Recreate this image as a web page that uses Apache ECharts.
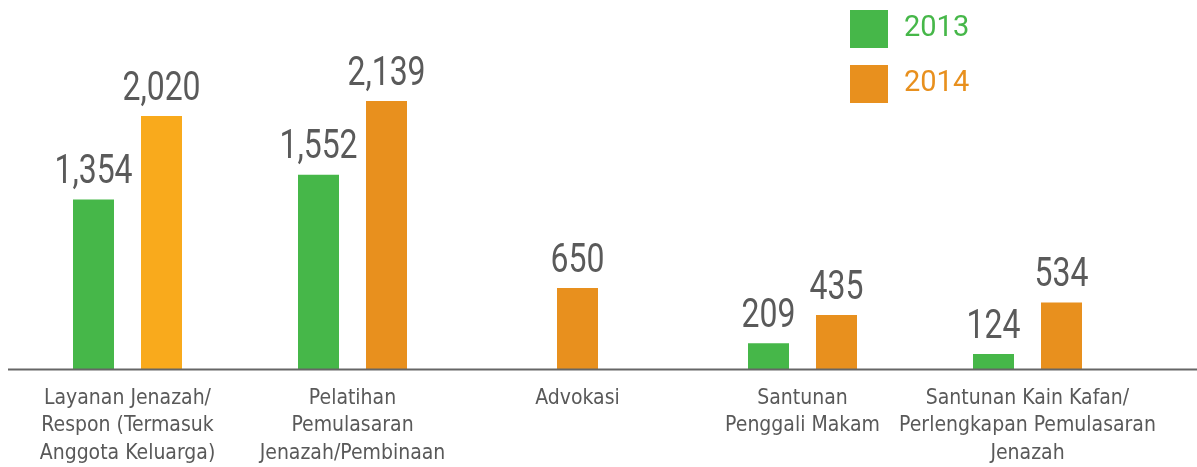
<!DOCTYPE html>
<html>
<head>
<meta charset="utf-8">
<style>
  html, body { margin: 0; padding: 0; background: #fff; }
  #main { width: 1197px; height: 467px; }
</style>
<script src="https://cdn.jsdelivr.net/npm/echarts@6/dist/echarts.min.js"></script>
</head>
<body>
<div id="main"></div>
<script>
// data
var categories = [
  "Layanan Jenazah/\nRespon (Termasuk\nAnggota Keluarga)",
  "Pelatihan\nPemulasaran\nJenazah/Pembinaan",
  "Advokasi",
  "Santunan\nPenggali Makam",
  "Santunan Kain Kafan/\nPerlengkapan Pemulasaran\nJenazah"
];
var values2013 = [1354, 1552, null, 209, 124];
var values2014 = [2020, 2139, 650, 435, 534];
var seriesNames = ["2013", "2014"];

// styles
var GREEN = "#46b749";
var ORANGE = "#e8901e";
var colors2014 = ["#f9aa1c", ORANGE, ORANGE, ORANGE, ORANGE];
var BAR_W = 41;
var BAR_GAP = 27;
var LABEL_FONT = '400 41px Roboto, sans-serif';
var AXIS_FONT = '"DejaVu Sans Condensed", sans-serif';

function toData(arr) {
  var out = [];
  arr.forEach(function (v, i) {
    if (v != null) out.push([i, v]);
  });
  return out;
}

function renderBar(params, api) {
  var cat = api.value(0);
  var val = api.value(1);
  var isFirst = params.seriesIndex === 0;
  // if the other year has no value in this category the bar is centred
  var other = isFirst ? values2014[cat] : values2013[cat];
  var offset = other == null ? 0 : (isFirst ? -1 : 1) * (BAR_W + BAR_GAP) / 2;
  var top = api.coord([cat, val]);
  var base = api.coord([cat, 0]);
  var color = isFirst ? GREEN : colors2014[cat];
  return {
    type: "rect",
    shape: {
      x: top[0] + offset - BAR_W / 2,
      y: top[1],
      width: BAR_W,
      height: base[1] - top[1]
    },
    style: { fill: color },
    textContent: {
      scaleX: 0.78,
      style: {
        text: val.toLocaleString("en-US"),
        font: LABEL_FONT,
        fill: "#5a5a5a"
      }
    },
    textConfig: { position: "top", distance: 6 }
  };
}

var myChart = echarts.init(document.getElementById("main"));
var option = {
  animation: false,
  legend: {
    orient: "vertical",
    left: 845,
    top: 5,
    icon: "rect",
    itemWidth: 38,
    itemHeight: 38,
    itemGap: 17,
    textStyle: { fontFamily: "Roboto", fontSize: 29, padding: [0, 0, 0, 11] },
    data: [
      { name: seriesNames[0], textStyle: { color: GREEN } },
      { name: seriesNames[1], textStyle: { color: ORANGE } }
    ]
  },
  grid: { left: 15, right: 57, top: 18, bottom: 96 },
  xAxis: {
    type: "category",
    data: categories,
    axisLine: { show: false },
    axisTick: { show: false },
    axisLabel: {
      interval: 0,
      margin: 15,
      color: "#595959",
      fontFamily: AXIS_FONT,
      fontSize: 21,
      lineHeight: 27.5
    }
  },
  yAxis: {
    type: "value",
    min: 0,
    max: 2800,
    show: false,
    splitLine: { show: false }
  },
  series: [
    {
      name: seriesNames[0],
      type: "custom",
      itemStyle: { color: GREEN },
      encode: { x: 0, y: 1 },
      renderItem: renderBar,
      data: toData(values2013)
    },
    {
      name: seriesNames[1],
      type: "custom",
      itemStyle: { color: ORANGE },
      encode: { x: 0, y: 1 },
      renderItem: renderBar,
      data: toData(values2014)
    }
  ]
};
myChart.setOption(option);

// baseline runs the full width of the picture
var y0 = myChart.convertToPixel({ yAxisIndex: 0 }, 0);
myChart.setOption({
  graphic: [{
    type: "line",
    z: 10,
    shape: { x1: 8, y1: y0, x2: 1197, y2: y0 },
    style: { stroke: "#666", lineWidth: 2 }
  }]
});
</script>
</body>
</html>
